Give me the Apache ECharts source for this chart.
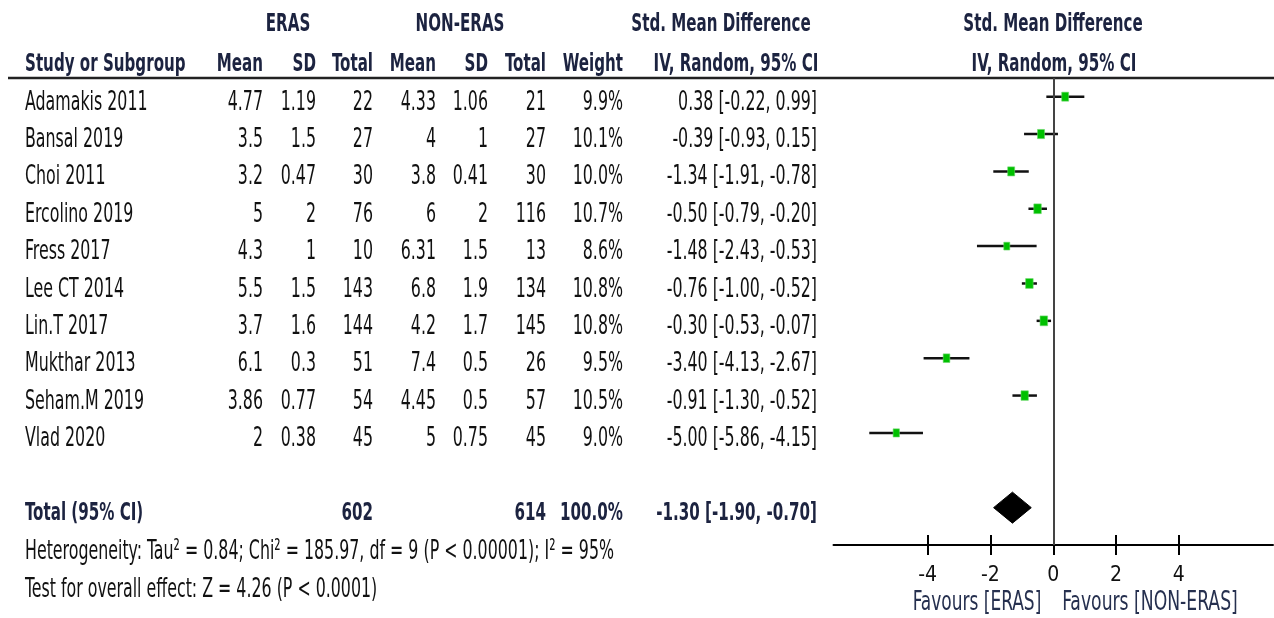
<!DOCTYPE html>
<html>
<head>
<meta charset="utf-8">
<title>Std. Mean Difference — ERAS vs NON-ERAS</title>
<script src="https://cdn.jsdelivr.net/npm/echarts@6/dist/echarts.min.js"></script>
<style>
  html, body { margin: 0; padding: 0; background: #fff; }
  #chart { width: 1274px; height: 618px; }
</style>
</head>
<body>
<div id="chart"></div>
<script>
// Study-level data
const studies  = ['Adamakis 2011', 'Bansal 2019', 'Choi 2011', 'Ercolino 2019', 'Fress 2017',
                  'Lee CT 2014', 'Lin.T 2017', 'Mukthar 2013', 'Seham.M 2019', 'Vlad 2020'];
const erasMean = [4.77, 3.5, 3.2, 5, 4.3, 5.5, 3.7, 6.1, 3.86, 2];
const erasSD   = [1.19, 1.5, 0.47, 2, 1, 1.5, 1.6, 0.3, 0.77, 0.38];
const erasN    = [22, 27, 30, 76, 10, 143, 144, 51, 54, 45];
const nonMean  = [4.33, 4, 3.8, 6, 6.31, 6.8, 4.2, 7.4, 4.45, 5];
const nonSD    = [1.06, 1, 0.41, 2, 1.5, 1.9, 1.7, 0.5, 0.5, 0.75];
const nonN     = [21, 27, 30, 116, 13, 134, 145, 26, 57, 45];
const weights  = [9.9, 10.1, 10.0, 10.7, 8.6, 10.8, 10.8, 9.5, 10.5, 9.0];
const smd      = [0.38, -0.39, -1.34, -0.50, -1.48, -0.76, -0.30, -3.40, -0.91, -5.00];
const ciLow    = [-0.22, -0.93, -1.91, -0.79, -2.43, -1.00, -0.53, -4.13, -1.30, -5.86];
const ciHigh   = [0.99, 0.15, -0.78, -0.20, -0.53, -0.52, -0.07, -2.67, -0.52, -4.15];

// Pooled result
const totalErasN = 602;
const totalNonN  = 614;
const totalWeight = 100.0;
const pooled = [-1.30, -1.90, -0.70];   // estimate, lower, upper
const heterogeneityText = 'Heterogeneity: Tau² = 0.84; Chi² = 185.97, df = 9 (P < 0.00001); I² = 95%';
const overallText = 'Test for overall effect: Z = 4.26 (P < 0.0001)';

// Axis
const xTicks = [-4, -2, 0, 2, 4];
const xMin = -7, xMax = 7;

const FONT = "'Liberation Sans Narrow', 'Arial Narrow', 'DejaVu Sans Condensed', sans-serif";
const HEAD = '#1c2340';
const INK = '#111111';

// Layout of the table
const gridTop = 78, gridBottom = 73;
const yMin = -0.5, yMax = 12;
const rowStep = (618 - gridTop - gridBottom) / (yMax - yMin);
const rowY = i => gridTop + (i - yMin) * rowStep + 6;
const pooledRow = 11;

const cols = { name: 25, m1: 263, sd1: 316, n1: 373, m2: 436, sd2: 488, n2: 546, w: 623, ci: 817 };

// condensed, slightly tall lettering
function txt(x, y, s, opt) {
  opt = opt || {};
  return {
    type: 'text', x: x, y: y, scaleY: opt.sy || 1.24, scaleX: opt.sx || 0.8,
    silent: true,
    style: {
      text: s,
      fill: opt.color || INK,
      font: (opt.bold ? 'bold ' : '') + (opt.size || 22) + 'px ' + FONT,
      textAlign: opt.align || 'left',
      textVerticalAlign: 'middle'
    }
  };
}

const fmt2 = v => v.toFixed(2);
const ciText = (e, l, h) => fmt2(e) + ' [' + fmt2(l) + ', ' + fmt2(h) + ']';

const graphics = [];
// header row 1
const hb = { bold: true, color: HEAD, size: 21, sy: 1.14 };
const withAlign = (a, o) => Object.assign({ align: a }, o);
graphics.push(txt(288, 25, 'ERAS', withAlign('center', hb)));
graphics.push(txt(460, 25, 'NON-ERAS', withAlign('center', hb)));
graphics.push(txt(721, 25, 'Std. Mean Difference', withAlign('center', hb)));
graphics.push(txt(1053, 25, 'Std. Mean Difference', withAlign('center', hb)));
// header row 2
const h2 = 65;
graphics.push(txt(cols.name, h2, 'Study or Subgroup', hb));
[['Mean', cols.m1], ['SD', cols.sd1], ['Total', cols.n1], ['Mean', cols.m2], ['SD', cols.sd2],
 ['Total', cols.n2], ['Weight', cols.w]].forEach(([s, x]) =>
  graphics.push(txt(x, h2, s, withAlign('right', hb))));
graphics.push(txt(736, h2, 'IV, Random, 95% CI', withAlign('center', hb)));
graphics.push(txt(1054, h2, 'IV, Random, 95% CI', withAlign('center', hb)));
// header rule
graphics.push({ type: 'line', silent: true, shape: { x1: 8, y1: 78, x2: 1274, y2: 78 },
  style: { stroke: '#222', lineWidth: 2.5 } });

// study rows
studies.forEach((s, i) => {
  const y = rowY(i);
  graphics.push(txt(cols.name, y, s));
  graphics.push(txt(cols.m1, y, String(erasMean[i]), { align: 'right' }));
  graphics.push(txt(cols.sd1, y, String(erasSD[i]), { align: 'right' }));
  graphics.push(txt(cols.n1, y, String(erasN[i]), { align: 'right' }));
  graphics.push(txt(cols.m2, y, String(nonMean[i]), { align: 'right' }));
  graphics.push(txt(cols.sd2, y, String(nonSD[i]), { align: 'right' }));
  graphics.push(txt(cols.n2, y, String(nonN[i]), { align: 'right' }));
  graphics.push(txt(cols.w, y, weights[i].toFixed(1) + '%', { align: 'right' }));
  graphics.push(txt(cols.ci, y, ciText(smd[i], ciLow[i], ciHigh[i]), { align: 'right' }));
});

// pooled row
const ty = rowY(pooledRow);
graphics.push(txt(cols.name, ty, 'Total (95% CI)', hb));
graphics.push(txt(cols.n1, ty, String(totalErasN), withAlign('right', hb)));
graphics.push(txt(cols.n2, ty, String(totalNonN), withAlign('right', hb)));
graphics.push(txt(cols.w, ty, totalWeight.toFixed(1) + '%', withAlign('right', hb)));
graphics.push(txt(cols.ci, ty, ciText(pooled[0], pooled[1], pooled[2]), withAlign('right', hb)));

// footnotes
graphics.push(txt(cols.name, 552, heterogeneityText));
graphics.push(txt(cols.name, 590, overallText));

// favours labels under the axis
graphics.push(txt(977, 603, 'Favours [ERAS]', { color: '#26304f', align: 'center', size: 22, sx: 0.86, sy: 1.18 }));
graphics.push(txt(1150, 603, 'Favours [NON-ERAS]', { color: '#26304f', align: 'center', size: 22, sx: 0.87, sy: 1.18 }));

const studyData = studies.map((s, i) => [i, ciLow[i], ciHigh[i], smd[i], weights[i]]);

const chart = echarts.init(document.getElementById('chart'), null, { renderer: 'canvas' });
chart.setOption({
  animation: false,
  backgroundColor: '#fff',
  grid: { left: 833.5, right: 1, top: gridTop, bottom: gridBottom, containLabel: false },
  xAxis: [{
    type: 'value', min: xMin, max: xMax, position: 'bottom',
    axisLine: { show: true, onZero: false, lineStyle: { color: '#000', width: 2 } },
    axisTick: { show: true, customValues: xTicks, length: 10, lineStyle: { color: '#000', width: 2 } },
    axisLabel: { show: true, customValues: xTicks, margin: 20, color: INK,
      fontFamily: FONT, fontSize: 21 },
    splitLine: { show: false }
  }, {
    type: 'value', min: xMin, max: xMax, position: 'bottom', offset: 0,
    axisLine: { show: false, onZero: false },
    axisTick: { show: true, inside: true, customValues: xTicks, length: 10, lineStyle: { color: '#000', width: 2 } },
    axisLabel: { show: false },
    splitLine: { show: false }
  }],
  yAxis: { type: 'value', min: yMin, max: yMax, inverse: true, show: false },
  graphic: { elements: graphics },
  series: [{
    // zero reference line
    type: 'line', data: [], silent: true,
    markLine: {
      symbol: 'none', silent: true, label: { show: false },
      lineStyle: { color: '#444', width: 2, type: 'solid' },
      data: [{ xAxis: 0 }]
    }
  }, {
    // confidence intervals and weighted point estimates
    type: 'custom', silent: true,
    encode: { x: [1, 2, 3], y: 0 },
    data: studyData,
    renderItem: function (params, api) {
      const row = api.value(0);
      const lo = api.coord([api.value(1), row]);
      const hi = api.coord([api.value(2), row]);
      const c = api.coord([api.value(3), row]);
      const w = api.value(4) * 0.7;
      const h = w * 1.3;
      return {
        type: 'group',
        children: [{
          type: 'line',
          shape: { x1: lo[0], y1: lo[1], x2: hi[0], y2: hi[1] },
          style: { stroke: '#111', lineWidth: 2.5 }
        }, {
          type: 'rect',
          shape: { x: c[0] - w / 2, y: c[1] - h / 2, width: w, height: h },
          style: { fill: '#00c000', stroke: '#6fd86f', lineWidth: 0.6 }
        }]
      };
    }
  }, {
    // pooled estimate diamond
    type: 'custom', silent: true,
    encode: { x: [1, 2, 3], y: 0 },
    data: [[pooledRow, pooled[1], pooled[2], pooled[0]]],
    renderItem: function (params, api) {
      const row = api.value(0);
      const lo = api.coord([api.value(1), row]);
      const hi = api.coord([api.value(2), row]);
      const c = api.coord([api.value(3), row]);
      const half = 15.5;
      return {
        type: 'polygon',
        shape: { points: [[lo[0], lo[1]], [c[0], c[1] - half], [hi[0], hi[1]], [c[0], c[1] + half]] },
        style: { fill: '#000', stroke: '#000', lineWidth: 1 }
      };
    }
  }]
});
</script>
</body>
</html>
